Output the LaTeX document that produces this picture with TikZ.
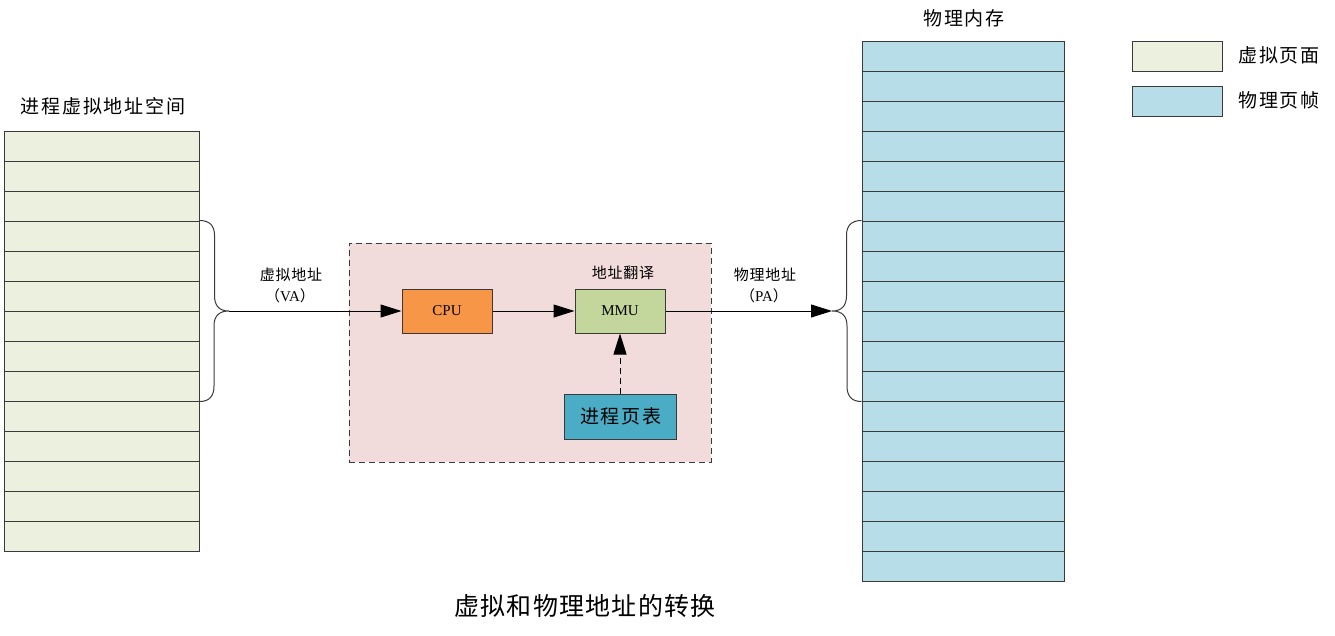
\documentclass[tikz,border=0pt]{standalone}
\usepackage{fontspec}
\setmainfont{Liberation Serif}
\newfontfamily\cjk{Noto Sans CJK SC}
\newfontfamily\cjks[LetterSpace=10]{Noto Sans CJK SC}
\newfontfamily\cjkm[LetterSpace=5]{Noto Sans CJK SC}
\usetikzlibrary{arrows.meta}
\definecolor{vgreen}{HTML}{EBF1DE}
\definecolor{pblue}{HTML}{B7DEE8}
\definecolor{pinkbg}{HTML}{F2DCDB}
\definecolor{cpuor}{HTML}{F79646}
\definecolor{mmugr}{HTML}{C3D69B}
\definecolor{ptteal}{HTML}{4BACC6}
\definecolor{edge}{HTML}{3A3A3A}
\tikzset{
  vrow/.style={draw=edge,line width=1pt,fill=vgreen,minimum width=195pt,minimum height=30pt,inner sep=0pt},
  prow/.style={draw=edge,line width=1pt,fill=pblue,minimum width=202pt,minimum height=30pt,inner sep=0pt},
  unit/.style={draw=edge,line width=1pt,minimum width=90pt,minimum height=44pt,inner sep=0pt,font=\fontsize{15}{17}\selectfont},
  lbl/.style={inner sep=0pt,font=\cjkm\fontsize{15}{17}\selectfont},
  big/.style={inner sep=0pt,font=\cjks\fontsize{19}{22}\selectfont},
  brace/.style={draw=edge,line width=1pt},
  dsh/.style={dash pattern=on 6pt off 4pt},
  arr/.style={draw=black,line width=1pt,-{Triangle[length=21pt,width=13pt]}},
}
\begin{document}
\begin{tikzpicture}[x=1pt,y=-1pt]
\useasboundingbox (0,0) rectangle (1335,635);
% virtual address space
\foreach \i in {0,...,13} \node[vrow] (v\i) at (101.5,146+30*\i) {};
\node[big] (vtitle) at (103,106) {进程虚拟地址空间};
% physical memory
\foreach \i in {0,...,17} \node[prow] (p\i) at (963,56+30*\i) {};
\node[big] (ptitle) at (964,18) {物理内存};
% legend
\node[draw=edge,line width=1pt,fill=vgreen,minimum width=90pt,minimum height=30pt,inner sep=0pt] (lg1) at (1177,56) {};
\node[draw=edge,line width=1pt,fill=pblue,minimum width=90pt,minimum height=30pt,inner sep=0pt] (lg2) at (1177,101) {};
\node[big,anchor=west] (lt1) at (1238,55) {虚拟页面};
\node[big,anchor=west] (lt2) at (1238,100) {物理页帧};
% MMU region
\node[draw=edge,dsh,line width=1pt,fill=pinkbg,minimum width=362pt,minimum height=219pt,inner sep=0pt] (region) at (530,352.5) {};
\node[unit,fill=cpuor] (cpu) at (447,311) {CPU};
\node[unit,fill=mmugr] (mmu) at (620,311) {MMU};
\node[draw=edge,line width=1pt,fill=ptteal,minimum width=112pt,minimum height=45pt,inner sep=0pt,font=\cjks\fontsize{19}{22}\selectfont] (ptab) at (620,416.5) {\hspace{1.9pt}进程页表};
\node[lbl] (xlate) at (623,273) {地址翻译};
% labels
\node[lbl] (va1) at (291,275) {虚拟地址};
\node[inner sep=0pt,font=\fontsize{15}{17}\selectfont] (va2) at (290,296) {{\cjk （}VA{\cjk ）}};
\node[lbl] (pa1) at (765,275) {物理地址};
\node[inner sep=0pt,font=\fontsize{15}{17}\selectfont] (pa2) at (764,296) {{\cjk （}PA{\cjk ）}};
% brace tips
\coordinate (vt) at (229,311);
\coordinate (pt) at (832,311);
\draw[brace] (v3.north east) .. controls +(10,0) and +(0,-10) .. ++(15,15) -- ++(0,60)
  .. controls +(0,10) and +(-10,0) .. (vt)
  .. controls +(-10,0) and +(0,-10) .. ++(-15,15) -- ++(0,60)
  .. controls +(0,10) and +(10,0) .. (v8.south east);
\draw[brace] (p6.north west) .. controls +(-10,0) and +(0,-10) .. ++(-15,15) -- ++(0,60)
  .. controls +(0,10) and +(10,0) .. (pt)
  .. controls +(10,0) and +(0,-10) .. ++(15,15) -- ++(0,60)
  .. controls +(0,10) and +(-10,0) .. (p11.south west);
% arrows
\draw[arr] (vt) -- (cpu);
\draw[arr] (cpu) -- (mmu);
\draw[arr] (mmu) -- (pt);
\draw[arr,dsh] (ptab) -- (mmu);
% caption
\node[inner sep=0pt,font=\cjkm\fontsize{25}{28}\selectfont] (cap) at (585,606) {虚拟和物理地址的转换};
\end{tikzpicture}
\end{document}
